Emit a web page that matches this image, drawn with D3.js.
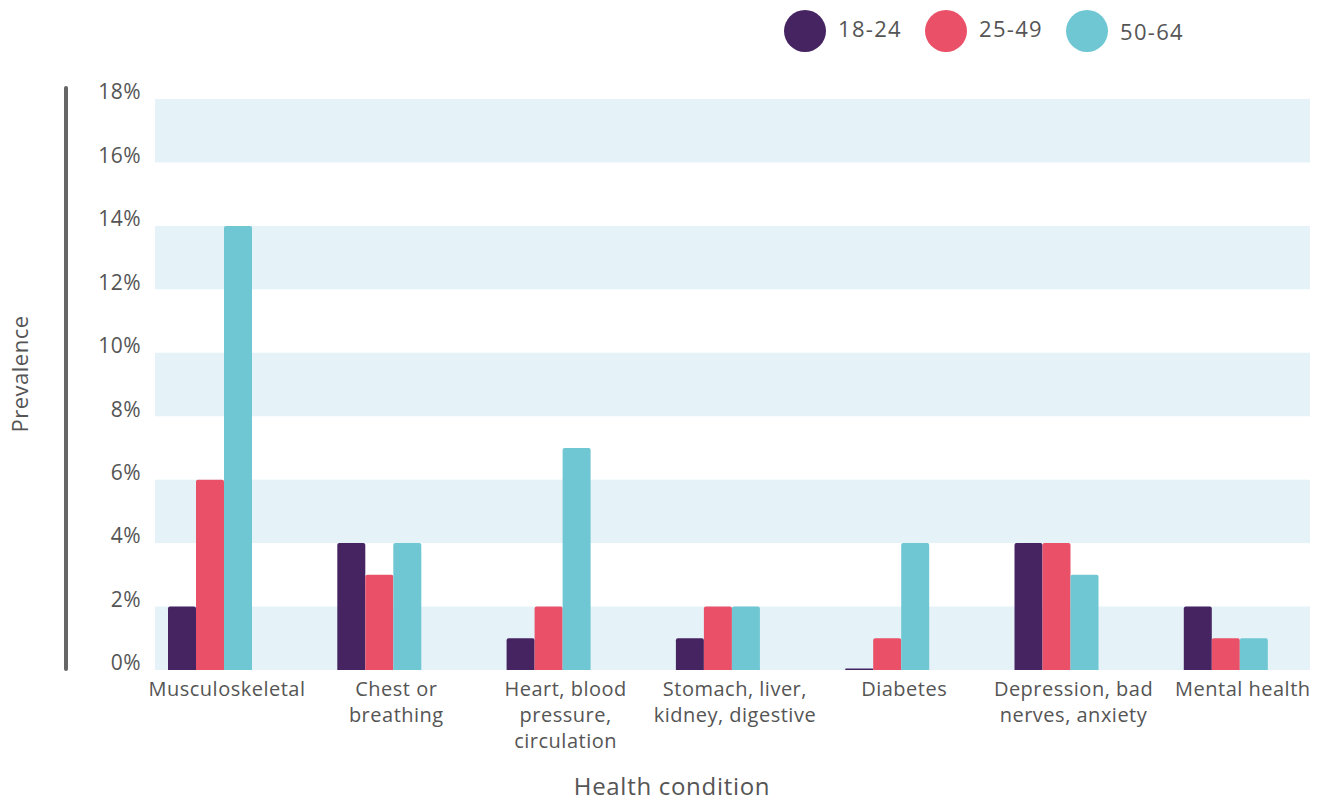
<!DOCTYPE html>
<html>
<head>
<meta charset="utf-8">
<script src="https://cdn.jsdelivr.net/npm/d3@7"></script>
<style>
  html, body { margin: 0; padding: 0; background: #fff; }
  svg { display: block; font-family: "Open Sans", Lato, sans-serif; }
</style>
</head>
<body>
<svg id="chart" width="1321" height="802"></svg>
<script>
// Health conditions (x categories), split into display lines
const categories = [
  "Musculoskeletal",
  "Chest or breathing",
  "Heart, blood pressure, circulation",
  "Stomach, liver, kidney, digestive",
  "Diabetes",
  "Depression, bad nerves, anxiety",
  "Mental health"
];
const categoryLines = [
  ["Musculoskeletal"],
  ["Chest or", "breathing"],
  ["Heart, blood", "pressure,", "circulation"],
  ["Stomach, liver,", "kidney, digestive"],
  ["Diabetes"],
  ["Depression, bad", "nerves, anxiety"],
  ["Mental health"]
];

// Age groups
const series = ["18-24", "25-49", "50-64"];
const seriesColors = ["#462462", "#ea5067", "#6ec7d2"];

// Prevalence (%) per age group, in category order
const values18to24 = [2, 4, 1, 1, 0.05, 4, 2];
const values25to49 = [6, 3, 2, 2, 1, 4, 1];
const values50to64 = [14, 4, 7, 2, 4, 3, 1];

const yTicks = [0, 2, 4, 6, 8, 10, 12, 14, 16, 18];

const seriesValues = [values18to24, values25to49, values50to64];

const svg = d3.select("#chart");
const textColor = "#555555";

const plotLeft = 155, plotRight = 1310;
const y = d3.scaleLinear().domain([0, 18]).range([670, 99]);

const x = d3.scaleBand().domain(categories).range([168, 168 + 7 * 169.3]);
const xSub = d3.scaleBand().domain(series).range([0, 84]);

// Alternating background bands
const bandStarts = yTicks.filter((t, i) => i % 2 === 0 && t < 18);
svg.append("g").selectAll("rect")
  .data(bandStarts)
  .join("rect")
  .attr("x", plotLeft)
  .attr("width", plotRight - plotLeft)
  .attr("y", d => y(d + 2))
  .attr("height", d => y(d) - y(d + 2))
  .attr("fill", "#e5f2f8");

// Left axis line
svg.append("line")
  .attr("x1", 66).attr("x2", 66)
  .attr("y1", y(18) - 11).attr("y2", y(0) - 1)
  .attr("stroke", "#666")
  .attr("stroke-width", 4)
  .attr("stroke-linecap", "round");

// Y tick labels
svg.append("g").selectAll("text")
  .data(yTicks)
  .join("text")
  .attr("x", 141)
  .attr("y", d => y(d) - 7)
  .attr("dy", "0.35em")
  .attr("text-anchor", "end")
  .attr("font-size", 21)
  .attr("letter-spacing", 0.5)
  .attr("fill", textColor)
  .text(d => d + "%");

// Bars with slightly rounded top corners
function barPath(x0, w, yTop, yBase) {
  const h = yBase - yTop;
  const r = Math.min(2, h / 2, w / 2);
  return `M${x0},${yBase}V${yTop + r}Q${x0},${yTop} ${x0 + r},${yTop}` +
         `H${x0 + w - r}Q${x0 + w},${yTop} ${x0 + w},${yTop + r}V${yBase}Z`;
}

const barData = [];
categories.forEach((c, ci) => {
  series.forEach((s, si) => {
    barData.push({ category: c, series: s, si, value: seriesValues[si][ci] });
  });
});

svg.append("g").selectAll("path")
  .data(barData)
  .join("path")
  .attr("fill", d => seriesColors[d.si])
  .attr("d", d => barPath(x(d.category) + xSub(d.series), xSub.bandwidth(), y(d.value), y(0)));

// Category labels
const labelG = svg.append("g")
  .attr("font-size", 20)
  .attr("letter-spacing", 0.5)
  .attr("fill", textColor)
  .attr("text-anchor", "middle");
categories.forEach((c, ci) => {
  const t = labelG.append("text")
    .attr("x", x(c) + 59)
    .attr("y", 696);
  categoryLines[ci].forEach((line, li) => {
    t.append("tspan")
      .attr("x", x(c) + 59)
      .attr("dy", li === 0 ? 0 : 26)
      .text(line);
  });
});

// Axis titles
svg.append("text")
  .attr("x", 672).attr("y", 795)
  .attr("text-anchor", "middle")
  .attr("font-size", 24)
  .attr("letter-spacing", 0.7)
  .attr("fill", textColor)
  .text("Health condition");

svg.append("text")
  .attr("transform", "translate(28,374) rotate(-90)")
  .attr("text-anchor", "middle")
  .attr("font-size", 22)
  .attr("letter-spacing", 0.5)
  .attr("fill", textColor)
  .text("Prevalence");

// Legend
const legendX = [805, 946, 1087];
const legend = svg.append("g").selectAll("g")
  .data(series)
  .join("g")
  .attr("transform", (d, i) => `translate(${legendX[i]},31)`);
legend.append("circle")
  .attr("r", 21)
  .attr("fill", (d, i) => seriesColors[i]);
legend.append("text")
  .attr("x", 33)
  .attr("y", (d, i) => i === 2 ? 1 : -2)
  .attr("dy", "0.35em")
  .attr("font-size", 22)
  .attr("letter-spacing", 1.3)
  .attr("fill", textColor)
  .text(d => d);
</script>
</body>
</html>
